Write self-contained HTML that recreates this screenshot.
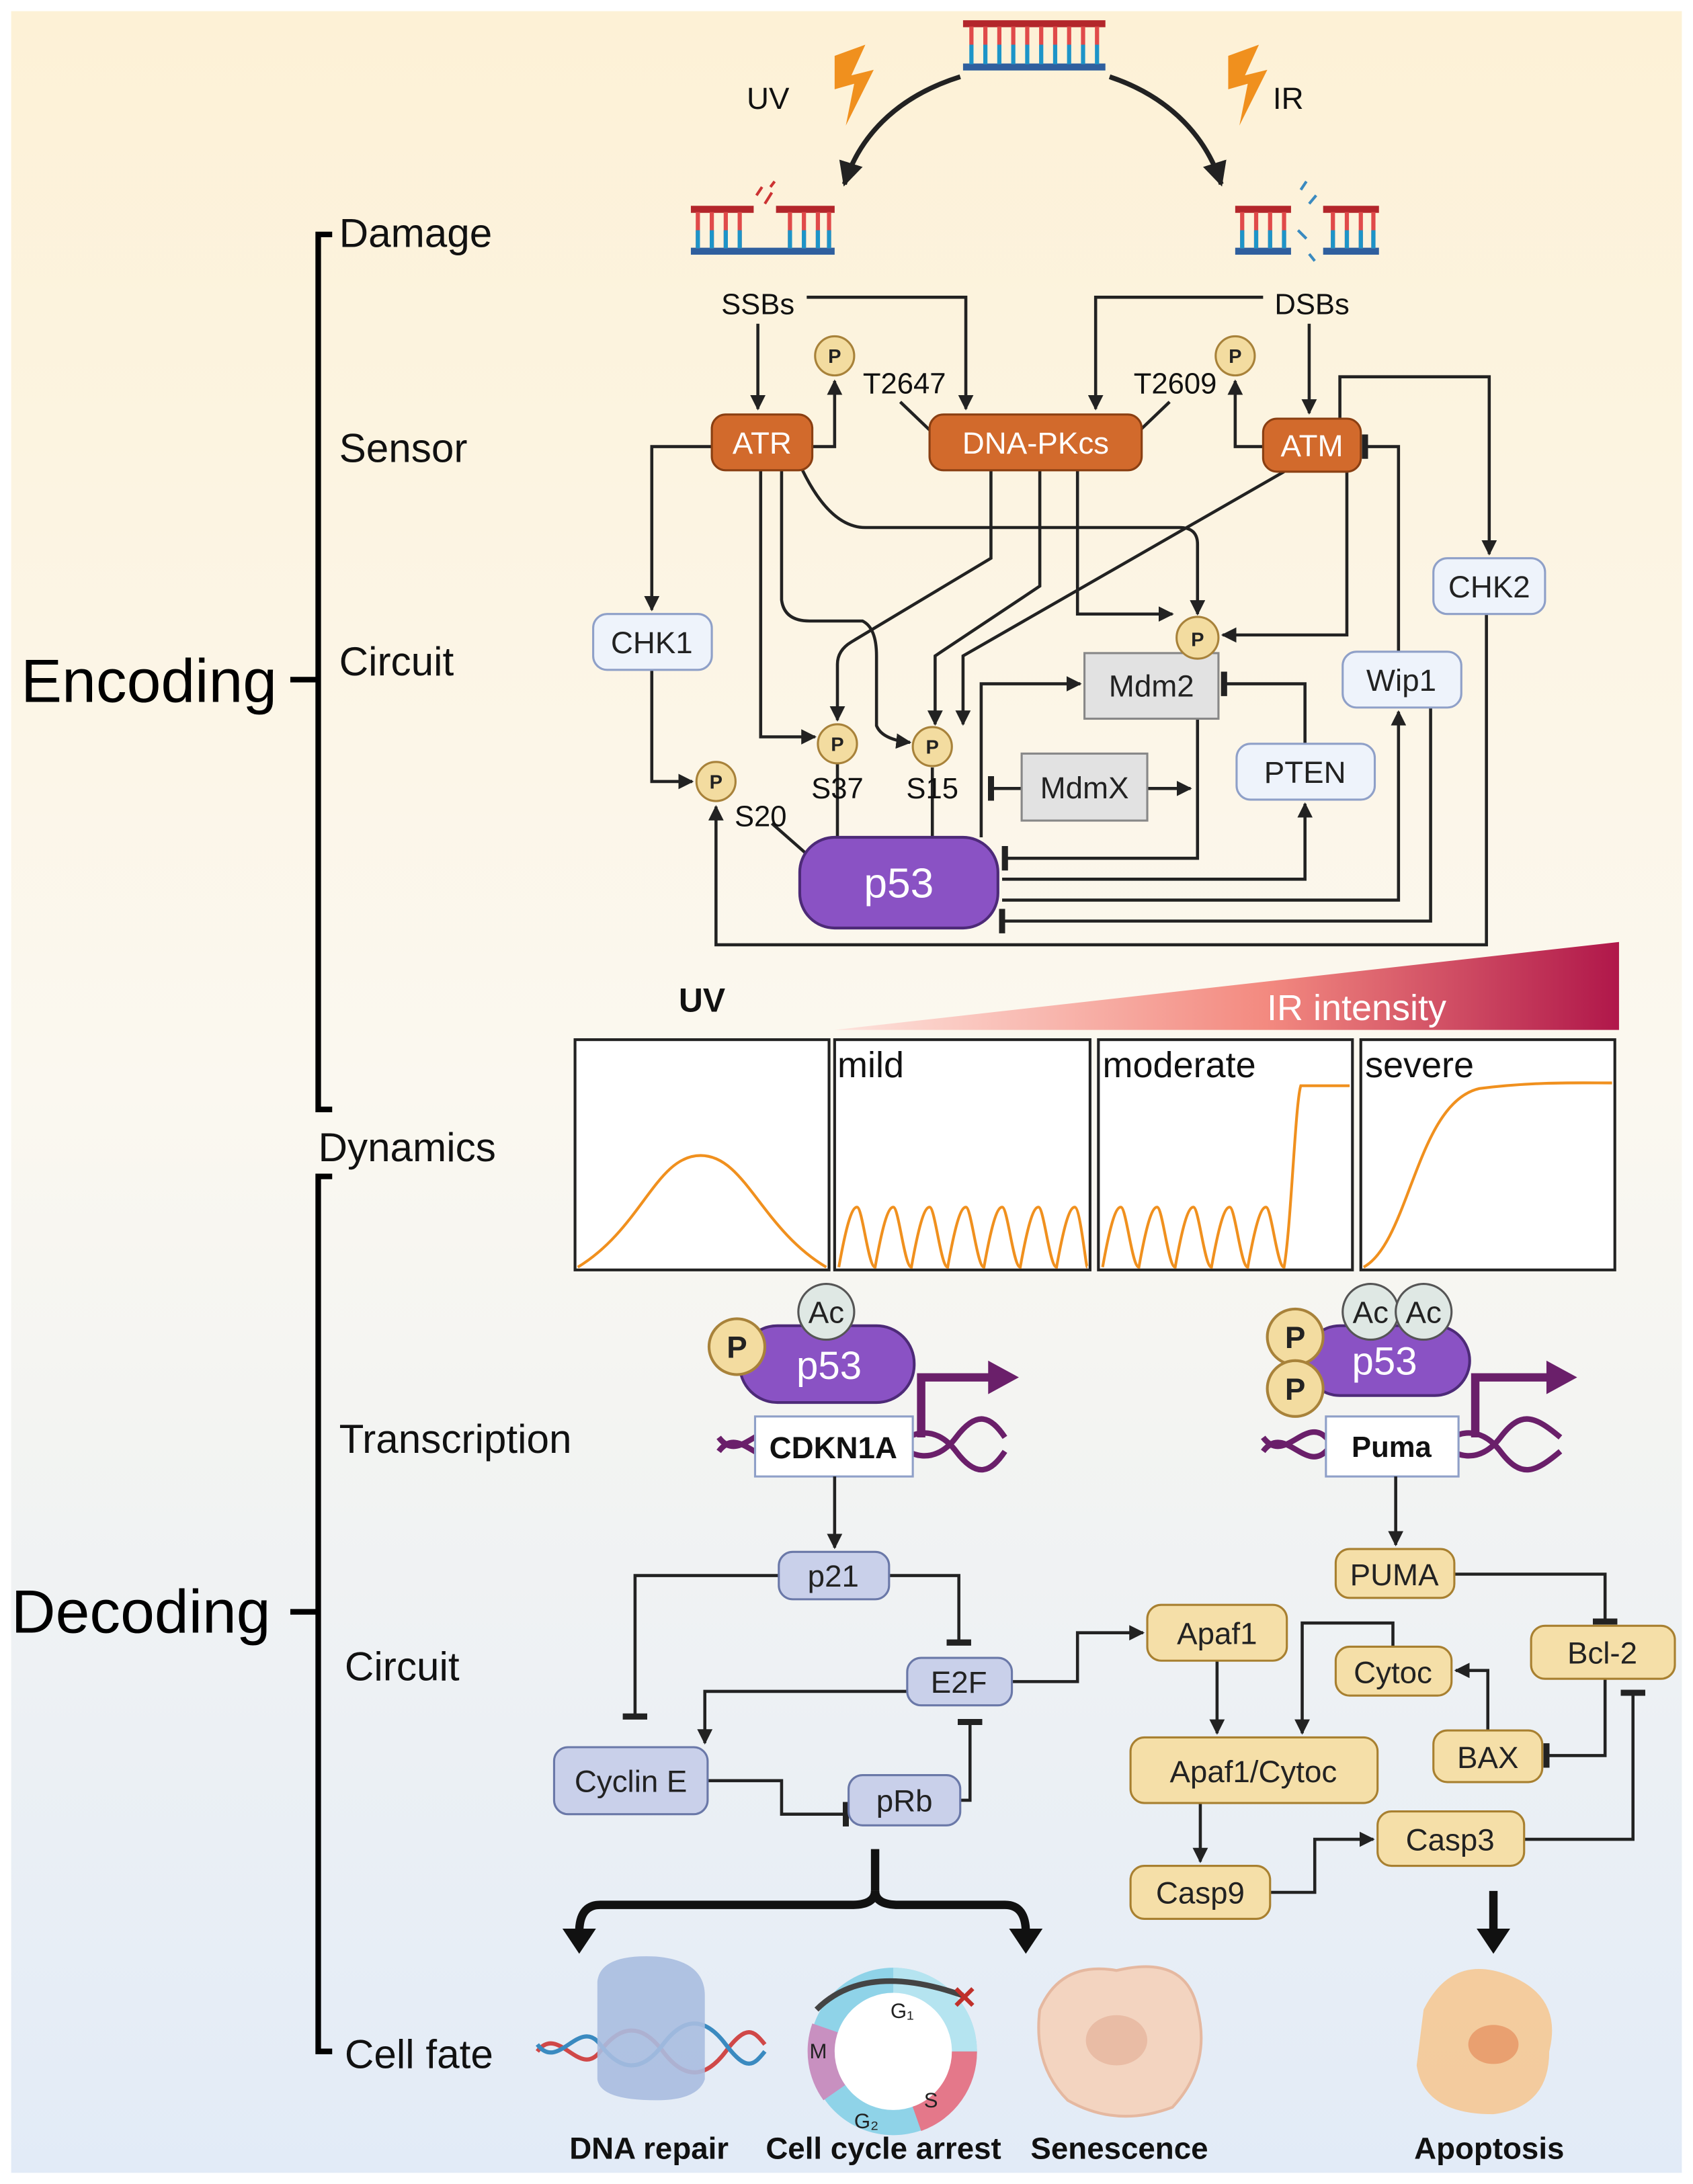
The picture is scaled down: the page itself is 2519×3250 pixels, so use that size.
<!DOCTYPE html>
<html><head><meta charset="utf-8"><style>
html,body{margin:0;padding:0;background:#fff;}
svg{display:block;}
text{font-family:"Liberation Sans",sans-serif;}
</style></head><body>
<svg width="2519" height="3250" viewBox="0 0 1213 1565" preserveAspectRatio="none" xmlns="http://www.w3.org/2000/svg">
<defs>
<linearGradient id="bg" x1="0" y1="0" x2="0" y2="1">
<stop offset="0" stop-color="#fdf1d6"/><stop offset="0.5" stop-color="#fbf8f0"/><stop offset="1" stop-color="#e2ebf7"/>
</linearGradient>
<linearGradient id="ir" x1="0" y1="0" x2="1" y2="0">
<stop offset="0" stop-color="#fde3dc"/><stop offset="0.55" stop-color="#f38a80"/><stop offset="1" stop-color="#b0174a"/>
</linearGradient>
<marker id="a" viewBox="0 0 10 10" refX="9" refY="5" markerWidth="5" markerHeight="5" orient="auto"><path d="M0,0L10,5L0,10z" fill="#222"/></marker>
<marker id="b" viewBox="0 0 4 16" refX="2" refY="8" markerWidth="2" markerHeight="8" orient="auto"><rect x="0" y="0" width="4" height="16" fill="#222"/></marker>
</defs>
<rect width="1213" height="1565" fill="#fff"/>
<rect x="8" y="8" width="1197" height="1549" fill="url(#bg)"/>

<g stroke-width="3">
<line x1="690" y1="17" x2="792" y2="17" stroke="#b3262b" stroke-width="5"/>
<line x1="690" y1="48" x2="792" y2="48" stroke="#2f5f9e" stroke-width="5"/>
<g stroke="#e04a4a"><path d="M696,19V32M706,19V32M716,19V32M726,19V32M736,19V32M746,19V32M756,19V32M766,19V32M776,19V32M786,19V32"/></g>
<g stroke="#1d94c8"><path d="M696,32V46M706,32V46M716,32V46M726,32V46M736,32V46M746,32V46M756,32V46M766,32V46M776,32V46M786,32V46"/></g>
</g>
<g stroke-width="3">
<line x1="495" y1="150" x2="540" y2="150" stroke="#b3262b" stroke-width="5"/>
<line x1="556" y1="150" x2="598" y2="150" stroke="#b3262b" stroke-width="5"/>
<line x1="495" y1="180" x2="598" y2="180" stroke="#2f5f9e" stroke-width="5"/>
<path d="M500,152V178M510,152V178M520,152V178M530,152V178M566,152V178M576,152V178M586,152V178M594,152V178" stroke="#e04a4a"/>
<path d="M500,165V178M510,165V178M520,165V178M530,165V178M566,165V178M576,165V178M586,165V178M594,165V178" stroke="#1d94c8"/>
<path d="M542,140l4,-6M548,146l5,-8M552,134l3,-4" stroke="#c33" stroke-width="2"/>
</g>
<g stroke-width="3">
<line x1="885" y1="150" x2="925" y2="150" stroke="#b3262b" stroke-width="5"/>
<line x1="948" y1="150" x2="988" y2="150" stroke="#b3262b" stroke-width="5"/>
<line x1="885" y1="180" x2="925" y2="180" stroke="#2f5f9e" stroke-width="5"/>
<line x1="948" y1="180" x2="988" y2="180" stroke="#2f5f9e" stroke-width="5"/>
<path d="M890,152V178M900,152V178M910,152V178M920,152V178M955,152V178M965,152V178M975,152V178M984,152V178" stroke="#e04a4a"/>
<path d="M890,165V178M900,165V178M910,165V178M920,165V178M955,165V178M965,165V178M975,165V178M984,165V178" stroke="#1d94c8"/>
<path d="M932,136l4,-6M938,146l5,-6M930,165l6,6M938,182l4,5" stroke="#3a8ac0" stroke-width="2"/>
</g>
<path d="M598,40l22,-8l-10,22l16,-4l-20,40l6,-30l-14,4z" fill="#f0901e"/>
<path d="M880,40l22,-8l-10,22l16,-4l-20,40l6,-30l-14,4z" fill="#f0901e"/>
<text x="535" y="78" font-size="22" fill="#111">UV</text>
<text x="912" y="78" font-size="22" fill="#111">IR</text>
<path d="M688,55 C640,70 615,100 605,132" stroke="#222" stroke-width="3.5" fill="none" marker-end="url(#a)"/>
<path d="M795,55 C840,70 865,100 875,132" stroke="#222" stroke-width="3.5" fill="none" marker-end="url(#a)"/>

<g stroke="#000" stroke-width="4" fill="none">
<path d="M238,168H228V795H238"/>
<line x1="208" y1="487" x2="228" y2="487"/>
<path d="M238,843H228V1470H238"/>
<line x1="208" y1="1155" x2="228" y2="1155"/>
</g>
<text x="15" y="503" font-size="44" fill="#000">Encoding</text>
<text x="8" y="1170" font-size="44" fill="#000">Decoding</text>
<g font-size="29" fill="#111">
<text x="243" y="177">Damage</text>
<text x="243" y="331">Sensor</text>
<text x="243" y="484">Circuit</text>
<text x="228" y="832">Dynamics</text>
<text x="243" y="1041">Transcription</text>
<text x="247" y="1204">Circuit</text>
<text x="247" y="1482">Cell fate</text>
</g>

<g stroke="#222" stroke-width="2.2" fill="none">
<path d="M543,232V293" marker-end="url(#a)"/>
<path d="M578,213H692V293" marker-end="url(#a)"/>
<path d="M905,213H785V293" marker-end="url(#a)"/>
<path d="M938,232V296" marker-end="url(#a)"/>
<path d="M582,320H598V273" marker-end="url(#a)"/>
<path d="M905,320H885V273" marker-end="url(#a)"/>
<path d="M645,288L668,310"/>
<path d="M838,288L815,310"/>
<path d="M960,300V270H1067V397" marker-end="url(#a)"/>
<path d="M510,320H467V437" marker-end="url(#a)"/>
<path d="M467,480V560H496" marker-end="url(#a)"/>
<path d="M545,337V528H584" marker-end="url(#a)"/>
<path d="M560,337V430Q562,445 580,445H618Q628,450 628,470V520Q632,530 652,532" marker-end="url(#a)"/>
<path d="M575,337Q595,378 620,378H845Q858,378 858,390V440" marker-end="url(#a)"/>
<path d="M710,337V400L610,460Q600,466 600,476V516" marker-end="url(#a)"/>
<path d="M745,337V420L670,470V519" marker-end="url(#a)"/>
<path d="M772,337V440H840" marker-end="url(#a)"/>
<path d="M920,338L690,470V519" marker-end="url(#a)"/>
<path d="M965,338V455H876" marker-end="url(#a)"/>
<path d="M703,600V490H774" marker-end="url(#a)"/>
<path d="M858,515V615H720" marker-end="url(#b)"/>
<path d="M732,565H710" marker-end="url(#b)"/>
<path d="M822,565H853" marker-end="url(#a)"/>
<path d="M935,533V490H877" marker-end="url(#b)"/>
<path d="M718,630H935V576" marker-end="url(#a)"/>
<path d="M718,645H1002V510" marker-end="url(#a)"/>
<path d="M1002,467V320H978" marker-end="url(#b)"/>
<path d="M1025,507V660H718" marker-end="url(#b)"/>
<path d="M1065,440V677H513V578" marker-end="url(#a)"/>
<path d="M600,547V600M668,550V600M553,590L578,612"/>
</g>

<g font-size="22" fill="#fff" text-anchor="middle">
<rect x="510" y="297" width="72" height="40" rx="10" fill="#d26a2c" stroke="#8a3f12" stroke-width="1.5"/>
<text x="546" y="325">ATR</text>
<rect x="666" y="297" width="152" height="40" rx="10" fill="#d26a2c" stroke="#8a3f12" stroke-width="1.5"/>
<text x="742" y="325">DNA-PKcs</text>
<rect x="905" y="300" width="70" height="38" rx="10" fill="#d26a2c" stroke="#8a3f12" stroke-width="1.5"/>
<text x="940" y="327">ATM</text>
</g>
<g font-size="22" fill="#222" text-anchor="middle">
<rect x="425" y="440" width="85" height="40" rx="10" fill="#eef3fb" stroke="#8fa0c8" stroke-width="1.5"/>
<text x="467" y="468">CHK1</text>
<rect x="1027" y="400" width="80" height="40" rx="10" fill="#eef3fb" stroke="#8fa0c8" stroke-width="1.5"/>
<text x="1067" y="428">CHK2</text>
<rect x="962" y="467" width="85" height="40" rx="10" fill="#eef3fb" stroke="#8fa0c8" stroke-width="1.5"/>
<text x="1004" y="495">Wip1</text>
<rect x="886" y="533" width="99" height="40" rx="10" fill="#eef3fb" stroke="#8fa0c8" stroke-width="1.5"/>
<text x="935" y="561">PTEN</text>
<rect x="777" y="468" width="96" height="47" fill="#e2e2e2" stroke="#888" stroke-width="1.5"/>
<text x="825" y="499">Mdm2</text>
<rect x="732" y="540" width="90" height="48" fill="#e2e2e2" stroke="#888" stroke-width="1.5"/>
<text x="777" y="572">MdmX</text>
</g>
<rect x="573" y="600" width="142" height="65" rx="25" fill="#8a52c4" stroke="#4d2a78" stroke-width="2"/>
<text x="644" y="643" font-size="30" fill="#fff" text-anchor="middle">p53</text>
<g fill="#f3dca0" stroke="#a8823a" stroke-width="1.5">
<circle cx="598" cy="255" r="14"/><circle cx="885" cy="255" r="14"/><circle cx="858" cy="457" r="15"/>
<circle cx="600" cy="533" r="14"/><circle cx="668" cy="535" r="14"/><circle cx="513" cy="560" r="14"/>
</g>
<g font-size="14" font-weight="bold" fill="#222" text-anchor="middle">
<text x="598" y="260">P</text><text x="885" y="260">P</text><text x="858" y="463">P</text>
<text x="600" y="538">P</text><text x="668" y="540">P</text><text x="513" y="565">P</text>
</g>
<g font-size="21" fill="#111" text-anchor="middle">
<text x="543" y="225">SSBs</text><text x="940" y="225">DSBs</text>
<text x="648" y="282">T2647</text><text x="842" y="282">T2609</text>
<text x="600" y="572">S37</text><text x="668" y="572">S15</text><text x="545" y="592">S20</text>
</g>

<path d="M598,738L1160,738L1160,675Z" fill="url(#ir)"/>
<text x="972" y="731" font-size="26" fill="#fff" text-anchor="middle">IR intensity</text>
<text x="503" y="725" font-size="24" font-weight="bold" fill="#111" text-anchor="middle">UV</text>
<g fill="#fff" stroke="#222" stroke-width="2">
<rect x="412" y="745" width="182" height="165"/><rect x="598" y="745" width="183" height="165"/>
<rect x="787" y="745" width="182" height="165"/><rect x="975" y="745" width="182" height="165"/>
</g>
<g font-size="26" fill="#111">
<text x="600" y="772">mild</text><text x="790" y="772">moderate</text><text x="978" y="772">severe</text>
</g>
<g stroke="#f0901e" stroke-width="2" fill="none">
<path d="M414,908C460,880 470,828 502,828C534,828 545,880 592,908"/>
<path d="M601,908C606,880 610,865 614,865C618,865 622,908 627,908C632,880 636,865 640,865C644,865 648,908 653,908C658,880 662,865 666,865C670,865 674,908 679,908C684,880 688,865 692,865C696,865 700,908 705,908C710,880 714,865 718,865C722,865 726,908 731,908C736,880 740,865 744,865C748,865 752,908 757,908C762,880 766,865 770,865C774,865 778,908 779,908"/>
<path d="M790,908C795,880 799,865 803,865C807,865 811,908 816,908C821,880 825,865 829,865C833,865 837,908 842,908C847,880 851,865 855,865C859,865 863,908 868,908C873,880 877,865 881,865C885,865 889,908 894,908C899,880 903,865 907,865C911,865 915,908 920,908C925,880 928,790 932,778H967"/>
<path d="M977,908C1010,890 1015,790 1060,780C1100,775 1130,776 1155,776"/>
</g>

<g stroke="#6a1f6a" stroke-width="4" fill="none">
<path d="M515,1030C530,1050 545,1015 560,1030S590,1050 600,1030 630,1015 640,1030 670,1050 685,1030 710,1015 720,1030"/>
<path d="M515,1040C530,1020 545,1055 560,1040S590,1020 600,1040 630,1055 640,1040 670,1020 685,1040 710,1055 720,1040"/>
<path d="M905,1030C920,1050 935,1015 950,1030S980,1050 990,1030 1020,1015 1030,1030 1060,1050 1075,1030 1100,1015 1118,1030"/>
<path d="M905,1040C920,1020 935,1055 950,1040S980,1020 990,1040 1020,1055 1030,1040 1060,1020 1075,1040 1100,1055 1118,1040"/>
</g>
<g stroke="#6a1f6a" stroke-width="6" fill="none">
<path d="M660,1030V987H712"/><path d="M1057,1030V987H1112"/>
</g>
<path d="M708,975L730,987L708,999Z" fill="#6a1f6a"/>
<path d="M1108,975L1130,987L1108,999Z" fill="#6a1f6a"/>
<rect x="530" y="950" width="125" height="55" rx="27" fill="#8a52c4" stroke="#4d2a78" stroke-width="2"/>
<text x="594" y="988" font-size="28" fill="#fff" text-anchor="middle">p53</text>
<circle cx="592" cy="940" r="20" fill="#dfe8e4" stroke="#555" stroke-width="1.5"/>
<text x="592" y="948" font-size="22" text-anchor="middle" fill="#222">Ac</text>
<circle cx="528" cy="965" r="20" fill="#f3dca0" stroke="#a8823a" stroke-width="2"/>
<text x="528" y="973" font-size="22" font-weight="bold" text-anchor="middle" fill="#222">P</text>
<rect x="541" y="1015" width="113" height="43" fill="#fff" stroke="#8fa0c8" stroke-width="1.5"/>
<text x="597" y="1045" font-size="22" font-weight="bold" text-anchor="middle" fill="#111">CDKN1A</text>
<rect x="935" y="950" width="118" height="50" rx="25" fill="#8a52c4" stroke="#4d2a78" stroke-width="2"/>
<text x="992" y="985" font-size="28" fill="#fff" text-anchor="middle">p53</text>
<circle cx="982" cy="940" r="20" fill="#dfe8e4" stroke="#555" stroke-width="1.5"/>
<circle cx="1020" cy="940" r="20" fill="#dfe8e4" stroke="#555" stroke-width="1.5"/>
<text x="982" y="948" font-size="22" text-anchor="middle" fill="#222">Ac</text>
<text x="1020" y="948" font-size="22" text-anchor="middle" fill="#222">Ac</text>
<circle cx="928" cy="958" r="20" fill="#f3dca0" stroke="#a8823a" stroke-width="2"/>
<circle cx="928" cy="995" r="20" fill="#f3dca0" stroke="#a8823a" stroke-width="2"/>
<text x="928" y="966" font-size="22" font-weight="bold" text-anchor="middle" fill="#222">P</text>
<text x="928" y="1003" font-size="22" font-weight="bold" text-anchor="middle" fill="#222">P</text>
<rect x="950" y="1015" width="95" height="43" fill="#fff" stroke="#8fa0c8" stroke-width="1.5"/>
<text x="997" y="1044" font-size="21" font-weight="bold" text-anchor="middle" fill="#111">Puma</text>

<g stroke="#222" stroke-width="2.2" fill="none">
<path d="M598,1058V1109" marker-end="url(#a)"/>
<path d="M558,1129H455V1230" marker-end="url(#b)"/>
<path d="M637,1129H687V1177" marker-end="url(#b)"/>
<path d="M650,1212H505V1249" marker-end="url(#a)"/>
<path d="M688,1290H695V1234" marker-end="url(#b)"/>
<path d="M507,1276H560V1300H606" marker-end="url(#b)"/>
<path d="M725,1205H772V1170H819" marker-end="url(#a)"/>
<path d="M1000,1058V1107" marker-end="url(#a)"/>
<path d="M1042,1128H1150V1162" marker-end="url(#b)"/>
<path d="M872,1190V1242" marker-end="url(#a)"/>
<path d="M998,1180V1163H933V1242" marker-end="url(#a)"/>
<path d="M1066,1240V1197H1043" marker-end="url(#a)"/>
<path d="M1150,1203V1258H1108" marker-end="url(#b)"/>
<path d="M1092,1318H1170V1213" marker-end="url(#b)"/>
<path d="M860,1292V1334" marker-end="url(#a)"/>
<path d="M910,1356H942V1318H984" marker-end="url(#a)"/>
</g>
<g font-size="22" fill="#222" text-anchor="middle">
<g fill="#c9d0ea" stroke="#6a78a8" stroke-width="1.5">
<rect x="558" y="1112" width="79" height="34" rx="10"/><rect x="650" y="1188" width="75" height="34" rx="10"/>
<rect x="397" y="1252" width="110" height="48" rx="10"/><rect x="608" y="1272" width="80" height="36" rx="10"/>
</g>
<text x="597" y="1137">p21</text><text x="687" y="1213">E2F</text><text x="452" y="1284">Cyclin E</text><text x="648" y="1298">pRb</text>
<g fill="#f5dfa8" stroke="#a88030" stroke-width="1.5">
<rect x="957" y="1110" width="85" height="35" rx="10"/><rect x="822" y="1150" width="100" height="40" rx="10"/>
<rect x="957" y="1180" width="83" height="35" rx="10"/><rect x="1097" y="1165" width="103" height="38" rx="10"/>
<rect x="810" y="1245" width="177" height="47" rx="10"/><rect x="1027" y="1240" width="78" height="37" rx="10"/>
<rect x="987" y="1298" width="105" height="39" rx="10"/><rect x="810" y="1337" width="100" height="38" rx="10"/>
</g>
<text x="999" y="1136">PUMA</text><text x="872" y="1178">Apaf1</text><text x="998" y="1206">Cytoc</text><text x="1148" y="1192">Bcl-2</text>
<text x="898" y="1277">Apaf1/Cytoc</text><text x="1066" y="1267">BAX</text><text x="1039" y="1326">Casp3</text><text x="860" y="1364">Casp9</text>
</g>

<g stroke="#111" stroke-width="6" fill="none">
<path d="M627,1325V1355"/>
<path d="M627,1355Q627,1365 610,1365H430Q415,1365 415,1385"/>
<path d="M627,1355Q627,1365 644,1365H720Q735,1365 735,1385"/>
<path d="M1070,1355V1385"/>
</g>
<path d="M403,1382L415,1400L427,1382Z" fill="#111"/>
<path d="M723,1382L735,1400L747,1382Z" fill="#111"/>
<path d="M1058,1382L1070,1400L1082,1382Z" fill="#111"/>

<path d="M385,1470C400,1450 415,1490 430,1470S460,1450 475,1470 505,1490 520,1470 540,1455 548,1465" stroke="#d04848" stroke-width="3" fill="none"/>
<path d="M385,1465C400,1485 415,1445 430,1465S460,1485 475,1465 505,1445 520,1465 540,1480 548,1470" stroke="#3a8ac0" stroke-width="3" fill="none"/>
<path d="M428,1420Q430,1400 470,1402Q505,1405 505,1430V1490Q500,1505 470,1505Q430,1505 428,1490Z" fill="#a9bde0" opacity="0.9"/>
<circle cx="640" cy="1470" r="60" fill="#8fd3e8"/>
<path d="M640,1410A60,60 0 0 1 700,1470L640,1470Z" fill="#b5e4f0"/>
<path d="M640,1470L700,1470A60,60 0 0 1 660,1527Z" fill="#e4788a"/>
<path d="M640,1470L590,1505A60,60 0 0 1 582,1450Z" fill="#c890c0"/>
<circle cx="640" cy="1470" r="42" fill="#fff"/>
<path d="M585,1440Q620,1405 690,1430" stroke="#444" stroke-width="4" fill="none"/>
<path d="M685,1425l12,12M697,1425l-12,12" stroke="#c0302a" stroke-width="3"/>
<g font-size="15" fill="#222"><text x="638" y="1446">G₁</text><text x="580" y="1475">M</text><text x="662" y="1510">S</text><text x="612" y="1525">G₂</text></g>
<path d="M745,1440Q760,1405 800,1412Q850,1400 858,1440Q868,1480 840,1510Q800,1525 765,1505Q740,1480 745,1440Z" fill="#f3d4c0" stroke="#e5b8a0" stroke-width="2"/>
<ellipse cx="800" cy="1462" rx="22" ry="18" fill="#e9bca5"/>
<path d="M1020,1440Q1040,1400 1080,1415Q1120,1430 1110,1470Q1110,1510 1070,1515Q1020,1515 1015,1480Z" fill="#f6c58e" opacity="0.85"/>
<ellipse cx="1070" cy="1465" rx="18" ry="14" fill="#e9a070"/>
<g font-size="22" font-weight="bold" fill="#111" text-anchor="middle">
<text x="465" y="1547">DNA repair</text><text x="633" y="1547">Cell cycle arrest</text><text x="802" y="1547">Senescence</text><text x="1067" y="1547">Apoptosis</text>
</g>
</svg>
</body></html>
